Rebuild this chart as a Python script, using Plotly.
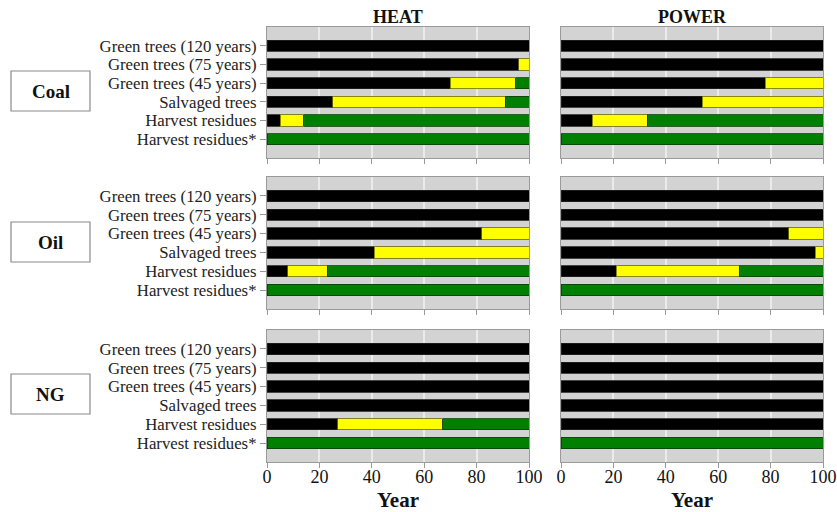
import plotly.graph_objects as go

categories = ["Green trees (120 years)", "Green trees (75 years)", "Green trees (45 years)",
              "Salvaged trees", "Harvest residues", "Harvest residues*"]
fuels = ["Coal", "Oil", "NG"]
uses = ["HEAT", "POWER"]
x_ticks = [0, 20, 40, 60, 80, 100]

# segment lengths (years) per panel: black, yellow, green
coal_heat_black = [100, 96, 70, 25, 5, 0]
coal_heat_yellow = [0, 4, 25, 66, 9, 0]
coal_heat_green = [0, 0, 5, 9, 86, 100]
coal_power_black = [100, 100, 78, 54, 12, 0]
coal_power_yellow = [0, 0, 22, 46, 21, 0]
coal_power_green = [0, 0, 0, 0, 67, 100]
oil_heat_black = [100, 100, 82, 41, 8, 0]
oil_heat_yellow = [0, 0, 18, 59, 15, 0]
oil_heat_green = [0, 0, 0, 0, 77, 100]
oil_power_black = [100, 100, 87, 97, 21, 0]
oil_power_yellow = [0, 0, 13, 3, 47, 0]
oil_power_green = [0, 0, 0, 0, 32, 100]
ng_heat_black = [100, 100, 100, 100, 27, 0]
ng_heat_yellow = [0, 0, 0, 0, 40, 0]
ng_heat_green = [0, 0, 0, 0, 33, 100]
ng_power_black = [100, 100, 100, 100, 100, 0]
ng_power_yellow = [0, 0, 0, 0, 0, 0]
ng_power_green = [0, 0, 0, 0, 0, 100]

panels = {
    ("Coal", "HEAT"): (coal_heat_black, coal_heat_yellow, coal_heat_green),
    ("Coal", "POWER"): (coal_power_black, coal_power_yellow, coal_power_green),
    ("Oil", "HEAT"): (oil_heat_black, oil_heat_yellow, oil_heat_green),
    ("Oil", "POWER"): (oil_power_black, oil_power_yellow, oil_power_green),
    ("NG", "HEAT"): (ng_heat_black, ng_heat_yellow, ng_heat_green),
    ("NG", "POWER"): (ng_power_black, ng_power_yellow, ng_power_green),
}
colors = ["#000000", "#ffff00", "#007f00"]
edge = ["#222222", "#6b6b00", "#0b3d0b"]

W, H = 837, 512
x_dom = {"HEAT": (267, 529), "POWER": (561, 823)}
y_dom = {"Coal": (27, 158), "Oil": (177, 309), "NG": (330, 462)}
SERIF = "Liberation Serif"

fig = go.Figure()
layout = {}
idx = 0
for fi, fuel in enumerate(fuels):
    for ui, use in enumerate(uses):
        idx += 1
        xa = "x" if idx == 1 else f"x{idx}"
        ya = "y" if idx == 1 else f"y{idx}"
        for seg, vals in enumerate(panels[(fuel, use)]):
            fig.add_trace(go.Bar(
                x=[v if v else None for v in vals], y=categories, orientation="h",
                marker=dict(color=colors[seg], line=dict(color=edge[seg], width=0.8)),
                xaxis=xa, yaxis=ya, showlegend=False, hoverinfo="skip"))
        x0, x1 = x_dom[use]
        y0, y1 = y_dom[fuel]
        bottom = fuel == "NG"
        layout["xaxis" if idx == 1 else f"xaxis{idx}"] = dict(
            domain=[x0 / W, x1 / W], anchor=ya, range=[0, 100],
            tickmode="array", tickvals=x_ticks, showticklabels=bottom,
            tickfont=dict(family=SERIF, size=18, color="#111"),
            ticks="outside", ticklen=5, tickcolor="#999", ticklabelstandoff=-7,
            showgrid=True, gridcolor="#ebebeb", gridwidth=1.5,
            showline=True, linecolor="#9a9a9a", linewidth=1.2, mirror=True,
            zeroline=False, fixedrange=True, automargin=False,
            title=dict(text="<b>Year</b>", font=dict(family=SERIF, size=21, color="#111"), standoff=11) if bottom else None)
        layout["yaxis" if idx == 1 else f"yaxis{idx}"] = dict(
            domain=[1 - y1 / H, 1 - y0 / H], anchor=xa,
            type="category", categoryorder="array", categoryarray=categories,
            tickmode="array", tickvals=categories, ticktext=categories,
            range=[6, -1], showticklabels=(use == "HEAT"),
            tickfont=dict(family=SERIF, size=16.8, color="#222"),
            ticks="outside" if use == "HEAT" else "", ticklen=6, tickcolor="#999",
            showgrid=False, showline=True, linecolor="#9a9a9a", linewidth=1.2, mirror=True,
            zeroline=False, fixedrange=True, automargin=False)

annotations = []
shapes = []
for use in uses:
    x0, x1 = x_dom[use]
    annotations.append(dict(text=f"<b>{use}</b>", x=(x0 + x1) / 2 / W, y=1 - 17 / H,
                            xref="paper", yref="paper", showarrow=False,
                            xanchor="center", yanchor="middle",
                            font=dict(family=SERIF, size=18, color="#111")))
box_y = {"Coal": (71, 111), "Oil": (222, 262), "NG": (374, 414)}
for fuel in fuels:
    b0, b1 = box_y[fuel]
    shapes.append(dict(type="rect", xref="paper", yref="paper",
                       x0=11 / W, x1=90 / W, y0=1 - b1 / H, y1=1 - b0 / H,
                       line=dict(color="#8a8a8a", width=1.2), fillcolor="white"))
    annotations.append(dict(text=f"<b>{fuel}</b>", x=50.5 / W, y=1 - (b0 + b1) / 2 / H,
                            xref="paper", yref="paper", showarrow=False,
                            xanchor="center", yanchor="middle",
                            font=dict(family=SERIF, size=19, color="#111")))

fig.update_layout(
    width=W, height=H, margin=dict(l=0, r=0, t=0, b=0, autoexpand=False),
    paper_bgcolor="white", plot_bgcolor="#d3d3d3",
    barmode="stack", bargap=0.4,
    annotations=annotations, shapes=shapes, **layout)

fig.write_html("out.html")
